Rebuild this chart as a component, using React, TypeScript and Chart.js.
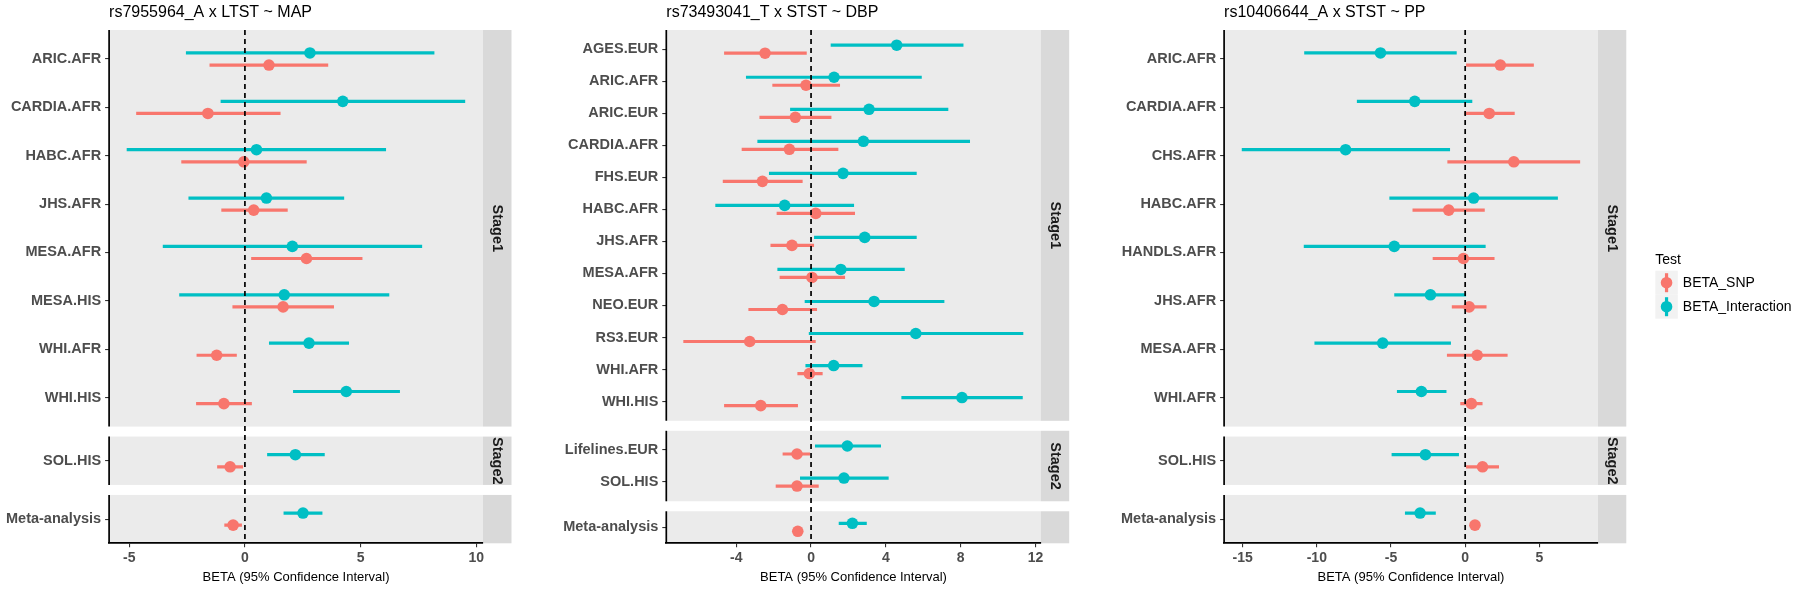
import React, { useEffect, useRef } from "react";
import { Chart, registerables } from "chart.js";

Chart.register(...registerables);

const SNP_COLOR = "#F8766D";
const INT_COLOR = "#00BFC4";
const FONT = "'Liberation Sans', Arial, Helvetica, sans-serif";
Chart.defaults.font.family = FONT;

const AXIS_TITLE = "BETA (95% Confidence Interval)";
const LEGEND_TITLE = "Test";
const SERIES_NAMES = ["BETA_SNP", "BETA_Interaction"];
const STRIP_NAMES = ["Stage1", "Stage2", ""];

// ---------- Panel 1 ----------
const p1Title = "rs7955964_A x LTST ~ MAP";
const p1Stage1 = ["ARIC.AFR", "CARDIA.AFR", "HABC.AFR", "JHS.AFR", "MESA.AFR", "MESA.HIS", "WHI.AFR", "WHI.HIS"];
const p1Stage2 = ["SOL.HIS"];
const p1Meta = ["Meta-analysis"];
const p1SnpLow = [-1.53, -4.7, -2.75, -1.02, 0.27, -0.54, -2.09, -2.11, -1.2, -0.89];
const p1SnpBeta = [1.04, -1.6, -0.05, 0.38, 2.66, 1.65, -1.22, -0.91, -0.64, -0.51];
const p1SnpHigh = [3.6, 1.54, 2.67, 1.85, 5.08, 3.85, -0.35, 0.3, -0.08, -0.13];
const p1IntLow = [-2.55, -1.05, -5.11, -2.44, -3.55, -2.84, 1.04, 2.08, 0.96, 1.67];
const p1IntBeta = [2.81, 4.23, 0.5, 0.93, 2.05, 1.7, 2.77, 4.38, 2.18, 2.51];
const p1IntHigh = [8.19, 9.52, 6.1, 4.29, 7.66, 6.24, 4.5, 6.7, 3.45, 3.35];
const p1TickLabels = ["-5", "0", "5", "10"];
const p1Range = [-5.87, 10.29];

// ---------- Panel 2 ----------
const p2Title = "rs73493041_T x STST ~ DBP";
const p2Stage1 = ["AGES.EUR", "ARIC.AFR", "ARIC.EUR", "CARDIA.AFR", "FHS.EUR", "HABC.AFR", "JHS.AFR", "MESA.AFR", "NEO.EUR", "RS3.EUR", "WHI.AFR", "WHI.HIS"];
const p2Stage2 = ["Lifelines.EUR", "SOL.HIS"];
const p2Meta = ["Meta-analysis"];
const p2SnpLow = [-4.65, -2.07, -2.76, -3.71, -4.72, -1.84, -2.17, -1.68, -3.35, -6.83, -0.73, -4.65, -1.52, -1.89, -0.95];
const p2SnpBeta = [-2.46, -0.27, -0.84, -1.16, -2.6, 0.25, -1.02, 0.05, -1.53, -3.28, -0.09, -2.69, -0.75, -0.75, -0.71];
const p2SnpHigh = [-0.23, 1.55, 1.09, 1.46, -0.45, 2.35, 0.16, 1.82, 0.32, 0.25, 0.62, -0.7, -0.05, 0.41, -0.47];
const p2IntLow = [1.05, -3.48, -1.12, -2.87, -2.25, -5.12, 0.16, -1.8, -0.34, -0.12, -0.3, 4.83, 0.21, -0.59, 1.48];
const p2IntBeta = [4.58, 1.23, 3.1, 2.8, 1.71, -1.41, 2.87, 1.59, 3.37, 5.6, 1.21, 8.07, 1.94, 1.76, 2.21];
const p2IntHigh = [8.15, 5.92, 7.34, 8.5, 5.65, 2.3, 5.65, 5.01, 7.13, 11.35, 2.75, 11.32, 3.74, 4.15, 2.98];
const p2TickLabels = ["-4", "0", "4", "8", "12"];
const p2Range = [-7.74, 12.28];

// ---------- Panel 3 ----------
const p3Title = "rs10406644_A x STST ~ PP";
const p3Stage1 = ["ARIC.AFR", "CARDIA.AFR", "CHS.AFR", "HABC.AFR", "HANDLS.AFR", "JHS.AFR", "MESA.AFR", "WHI.AFR"];
const p3Stage2 = ["SOL.HIS"];
const p3Meta = ["Meta-analysis"];
const p3SnpLow = [0.06, -0.06, -1.2, -3.55, -2.19, -0.9, -1.23, -0.33, 0.06, 0.36];
const p3SnpBeta = [2.37, 1.62, 3.28, -1.11, -0.12, 0.27, 0.81, 0.42, 1.17, 0.66];
const p3SnpHigh = [4.63, 3.34, 7.75, 1.32, 1.98, 1.44, 2.86, 1.17, 2.28, 1.0];
const p3IntLow = [-10.85, -7.3, -15.06, -5.11, -10.88, -4.78, -10.16, -4.6, -4.96, -4.06];
const p3IntBeta = [-5.71, -3.4, -8.06, 0.57, -4.78, -2.34, -5.56, -2.95, -2.68, -3.04];
const p3IntHigh = [-0.57, 0.48, -1.02, 6.25, 1.38, 0.06, -0.96, -1.26, -0.42, -1.98];
const p3TickLabels = ["-15", "-10", "-5", "0", "5"];
const p3Range = [-16.25, 8.94];

// ---------- Layout (pixels) ----------
const CANVAS_H = 590;
const PLOT_TOP = 30;
const PLOT_BOTTOM = 543.3;
const GAP_PX = 10;
const STRIP_W = 28.5;
const DODGE = 0.125;
const POINT_R = 5.8;
const LINE_W = 3.2;

type PanelCfg = {
  title: string;
  groups: string[][];
  snpLow: number[]; snpBeta: number[]; snpHigh: number[];
  intLow: number[]; intBeta: number[]; intHigh: number[];
  tickLabels: string[];
  range: number[];
  canvasLeft: number; canvasWidth: number; plotLeft: number; plotRight: number;
  legend: boolean;
};

const PANELS: PanelCfg[] = [
  {
    title: p1Title, groups: [p1Stage1, p1Stage2, p1Meta],
    snpLow: p1SnpLow, snpBeta: p1SnpBeta, snpHigh: p1SnpHigh,
    intLow: p1IntLow, intBeta: p1IntBeta, intHigh: p1IntHigh,
    tickLabels: p1TickLabels, range: p1Range,
    canvasLeft: 0, canvasWidth: 560, plotLeft: 109.1, plotRight: 483, legend: false,
  },
  {
    title: p2Title, groups: [p2Stage1, p2Stage2, p2Meta],
    snpLow: p2SnpLow, snpBeta: p2SnpBeta, snpHigh: p2SnpHigh,
    intLow: p2IntLow, intBeta: p2IntBeta, intHigh: p2IntHigh,
    tickLabels: p2TickLabels, range: p2Range,
    canvasLeft: 560, canvasWidth: 540, plotLeft: 106.3, plotRight: 480.7, legend: false,
  },
  {
    title: p3Title, groups: [p3Stage1, p3Stage2, p3Meta],
    snpLow: p3SnpLow, snpBeta: p3SnpBeta, snpHigh: p3SnpHigh,
    intLow: p3IntLow, intBeta: p3IntBeta, intHigh: p3IntHigh,
    tickLabels: p3TickLabels, range: p3Range,
    canvasLeft: 1100, canvasWidth: 700, plotLeft: 124.1, plotRight: 497.8, legend: true,
  },
];

function buildConfig(cfg: PanelCfg, idx: number): any {
  const sizes = cfg.groups.map((g) => (g.length > 1 ? g.length + 0.2 : 1));
  const total = sizes.reduce((a, b) => a + b, 0);
  const unit = (PLOT_BOTTOM - PLOT_TOP - GAP_PX * (cfg.groups.length - 1)) / total;
  const gapU = GAP_PX / unit;
  const facets: { start: number; end: number; strip: string }[] = [];
  const rowPos: number[] = [];
  const labels: string[] = [];
  let cursor = 0;
  cfg.groups.forEach((g, gi) => {
    const start = cursor;
    const end = cursor + sizes[gi];
    facets.push({ start, end, strip: STRIP_NAMES[gi] });
    g.forEach((name, i) => {
      rowPos.push(start + (g.length > 1 ? 0.6 + i : 0.5));
      labels.push(name);
    });
    cursor = end + gapU;
  });
  const yMax = cursor - gapU;
  const tickValues = cfg.tickLabels.map(Number);

  const datasets: any[] = [];
  datasets.push({
    label: SERIES_NAMES[0],
    data: rowPos.map((p, i) => ({ x: cfg.snpBeta[i], y: p + DODGE })),
    backgroundColor: SNP_COLOR, borderWidth: 0, pointRadius: POINT_R, order: 0,
  });
  datasets.push({
    label: SERIES_NAMES[1],
    data: rowPos.map((p, i) => ({ x: cfg.intBeta[i], y: p - DODGE })),
    backgroundColor: INT_COLOR, borderWidth: 0, pointRadius: POINT_R, order: 0,
  });
  rowPos.forEach((p, i) => {
    datasets.push({
      data: [{ x: cfg.snpLow[i], y: p + DODGE }, { x: cfg.snpHigh[i], y: p + DODGE }],
      showLine: true, borderColor: SNP_COLOR, borderWidth: LINE_W, pointRadius: 0, order: 1,
      borderCapStyle: "butt",
    });
    datasets.push({
      data: [{ x: cfg.intLow[i], y: p - DODGE }, { x: cfg.intHigh[i], y: p - DODGE }],
      showLine: true, borderColor: INT_COLOR, borderWidth: LINE_W, pointRadius: 0, order: 1,
      borderCapStyle: "butt",
    });
  });

  const deco = {
    id: "deco" + idx,
    beforeDraw(chart: any) {
      const { ctx, chartArea } = chart;
      const y = chart.scales.y;
      ctx.save();
      for (const f of facets) {
        const top = y.getPixelForValue(f.start);
        const bottom = y.getPixelForValue(f.end);
        ctx.fillStyle = "#EBEBEB";
        ctx.fillRect(chartArea.left, top, chartArea.right - chartArea.left, bottom - top);
        ctx.fillStyle = "#D9D9D9";
        ctx.fillRect(chartArea.right, top, STRIP_W, bottom - top);
        if (f.strip) {
          ctx.save();
          ctx.translate(chartArea.right + STRIP_W / 2, (top + bottom) / 2);
          ctx.rotate(Math.PI / 2);
          ctx.fillStyle = "#1A1A1A";
          ctx.font = `bold 14.5px ${FONT}`;
          ctx.textAlign = "center";
          ctx.textBaseline = "middle";
          ctx.fillText(f.strip, 0, 0);
          ctx.restore();
        }
      }
      ctx.fillStyle = "#000";
      ctx.font = `16px ${FONT}`;
      ctx.textAlign = "left";
      ctx.textBaseline = "alphabetic";
      ctx.fillText(cfg.title, chartArea.left, 16.5);
      ctx.restore();
    },
    beforeDatasetsDraw(chart: any) {
      const { ctx, chartArea } = chart;
      const y = chart.scales.y;
      ctx.save();
      ctx.strokeStyle = "#000";
      ctx.lineWidth = 1.7;
      for (const f of facets) {
        ctx.beginPath();
        ctx.moveTo(chartArea.left, y.getPixelForValue(f.start));
        ctx.lineTo(chartArea.left, y.getPixelForValue(f.end));
        ctx.stroke();
      }
      ctx.restore();
    },
    afterDatasetsDraw(chart: any) {
      const { ctx, chartArea } = chart;
      const x0 = chart.scales.x.getPixelForValue(0);
      ctx.save();
      ctx.strokeStyle = "#000";
      ctx.lineWidth = 1.7;
      ctx.setLineDash([5, 4]);
      ctx.beginPath();
      ctx.moveTo(x0, chartArea.top);
      ctx.lineTo(x0, chartArea.bottom);
      ctx.stroke();
      ctx.restore();
    },
    afterDraw(chart: any) {
      if (!cfg.legend) return;
      const { ctx, chartArea } = chart;
      const lx = chartArea.right + STRIP_W + 29;
      ctx.save();
      ctx.fillStyle = "#000";
      ctx.font = `14px ${FONT}`;
      ctx.textAlign = "left";
      ctx.textBaseline = "middle";
      ctx.fillText(LEGEND_TITLE, lx, 260);
      const colors = [SNP_COLOR, INT_COLOR];
      SERIES_NAMES.forEach((name, i) => {
        const cy = 282.7 + i * 24;
        ctx.fillStyle = "#F2F2F2";
        ctx.fillRect(lx, cy - 12, 22.5, 24);
        ctx.strokeStyle = colors[i];
        ctx.lineWidth = LINE_W;
        ctx.beginPath();
        ctx.moveTo(lx + 11.25, cy - 9.5);
        ctx.lineTo(lx + 11.25, cy + 9.5);
        ctx.stroke();
        ctx.fillStyle = colors[i];
        ctx.beginPath();
        ctx.arc(lx + 11.25, cy, POINT_R, 0, Math.PI * 2);
        ctx.fill();
        ctx.fillStyle = "#000";
        ctx.fillText(name, lx + 27.5, cy);
      });
      ctx.restore();
    },
  };

  return {
    type: "scatter",
    data: { datasets },
    plugins: [deco],
    options: {
      animation: false,
      responsive: false,
      devicePixelRatio: 1,
      events: [],
      layout: { padding: { top: PLOT_TOP, right: cfg.canvasWidth - cfg.plotRight, bottom: 0, left: 0 } },
      plugins: { legend: { display: false }, tooltip: { enabled: false }, title: { display: false } },
      scales: {
        x: {
          type: "linear",
          min: cfg.range[0],
          max: cfg.range[1],
          afterBuildTicks: (s: any) => { s.ticks = tickValues.map((v) => ({ value: v })); },
          afterFit: (s: any) => { s.height = CANVAS_H - PLOT_BOTTOM; },
          ticks: {
            callback: (_v: any, i: number) => cfg.tickLabels[i],
            font: { size: 14, weight: "bold", family: FONT },
            color: "#4D4D4D", padding: 2, autoSkip: false, maxRotation: 0,
          },
          grid: { drawOnChartArea: false, drawTicks: true, tickLength: 4, color: "#333333", lineWidth: 1.1 },
          border: { display: true, color: "#000", width: 1.7 },
          title: {
            display: true, text: AXIS_TITLE, color: "#000",
            font: { size: 13, family: FONT }, padding: { top: 0, bottom: 5 },
          },
        },
        y: {
          type: "linear",
          reverse: true,
          min: 0,
          max: yMax,
          afterBuildTicks: (s: any) => { s.ticks = rowPos.map((v) => ({ value: v })); },
          afterFit: (s: any) => { s.width = cfg.plotLeft; },
          ticks: {
            callback: (_v: any, i: number) => labels[i],
            font: { size: 14.5, weight: "bold", family: FONT },
            color: "#4D4D4D", padding: 4, autoSkip: false,
          },
          grid: { drawOnChartArea: false, drawTicks: true, tickLength: 4, color: "#333333", lineWidth: 1.1 },
          border: { display: false },
        },
      },
    },
  };
}

function Panel({ cfg, idx }: { cfg: PanelCfg; idx: number }) {
  const ref = useRef<HTMLCanvasElement>(null);
  useEffect(() => {
    if (!ref.current) return;
    const chart = new Chart(ref.current, buildConfig(cfg, idx));
    return () => chart.destroy();
  }, [cfg, idx]);
  return (
    <canvas
      ref={ref}
      width={cfg.canvasWidth}
      height={CANVAS_H}
      style={{ position: "absolute", left: cfg.canvasLeft, top: 0, width: cfg.canvasWidth, height: CANVAS_H }}
    />
  );
}

export default function App() {
  return (
    <div style={{ position: "absolute", left: 0, top: 0, width: 1800, height: 590, background: "#fff", overflow: "hidden" }}>
      {PANELS.map((p, i) => (
        <Panel key={i} cfg={p} idx={i} />
      ))}
    </div>
  );
}
